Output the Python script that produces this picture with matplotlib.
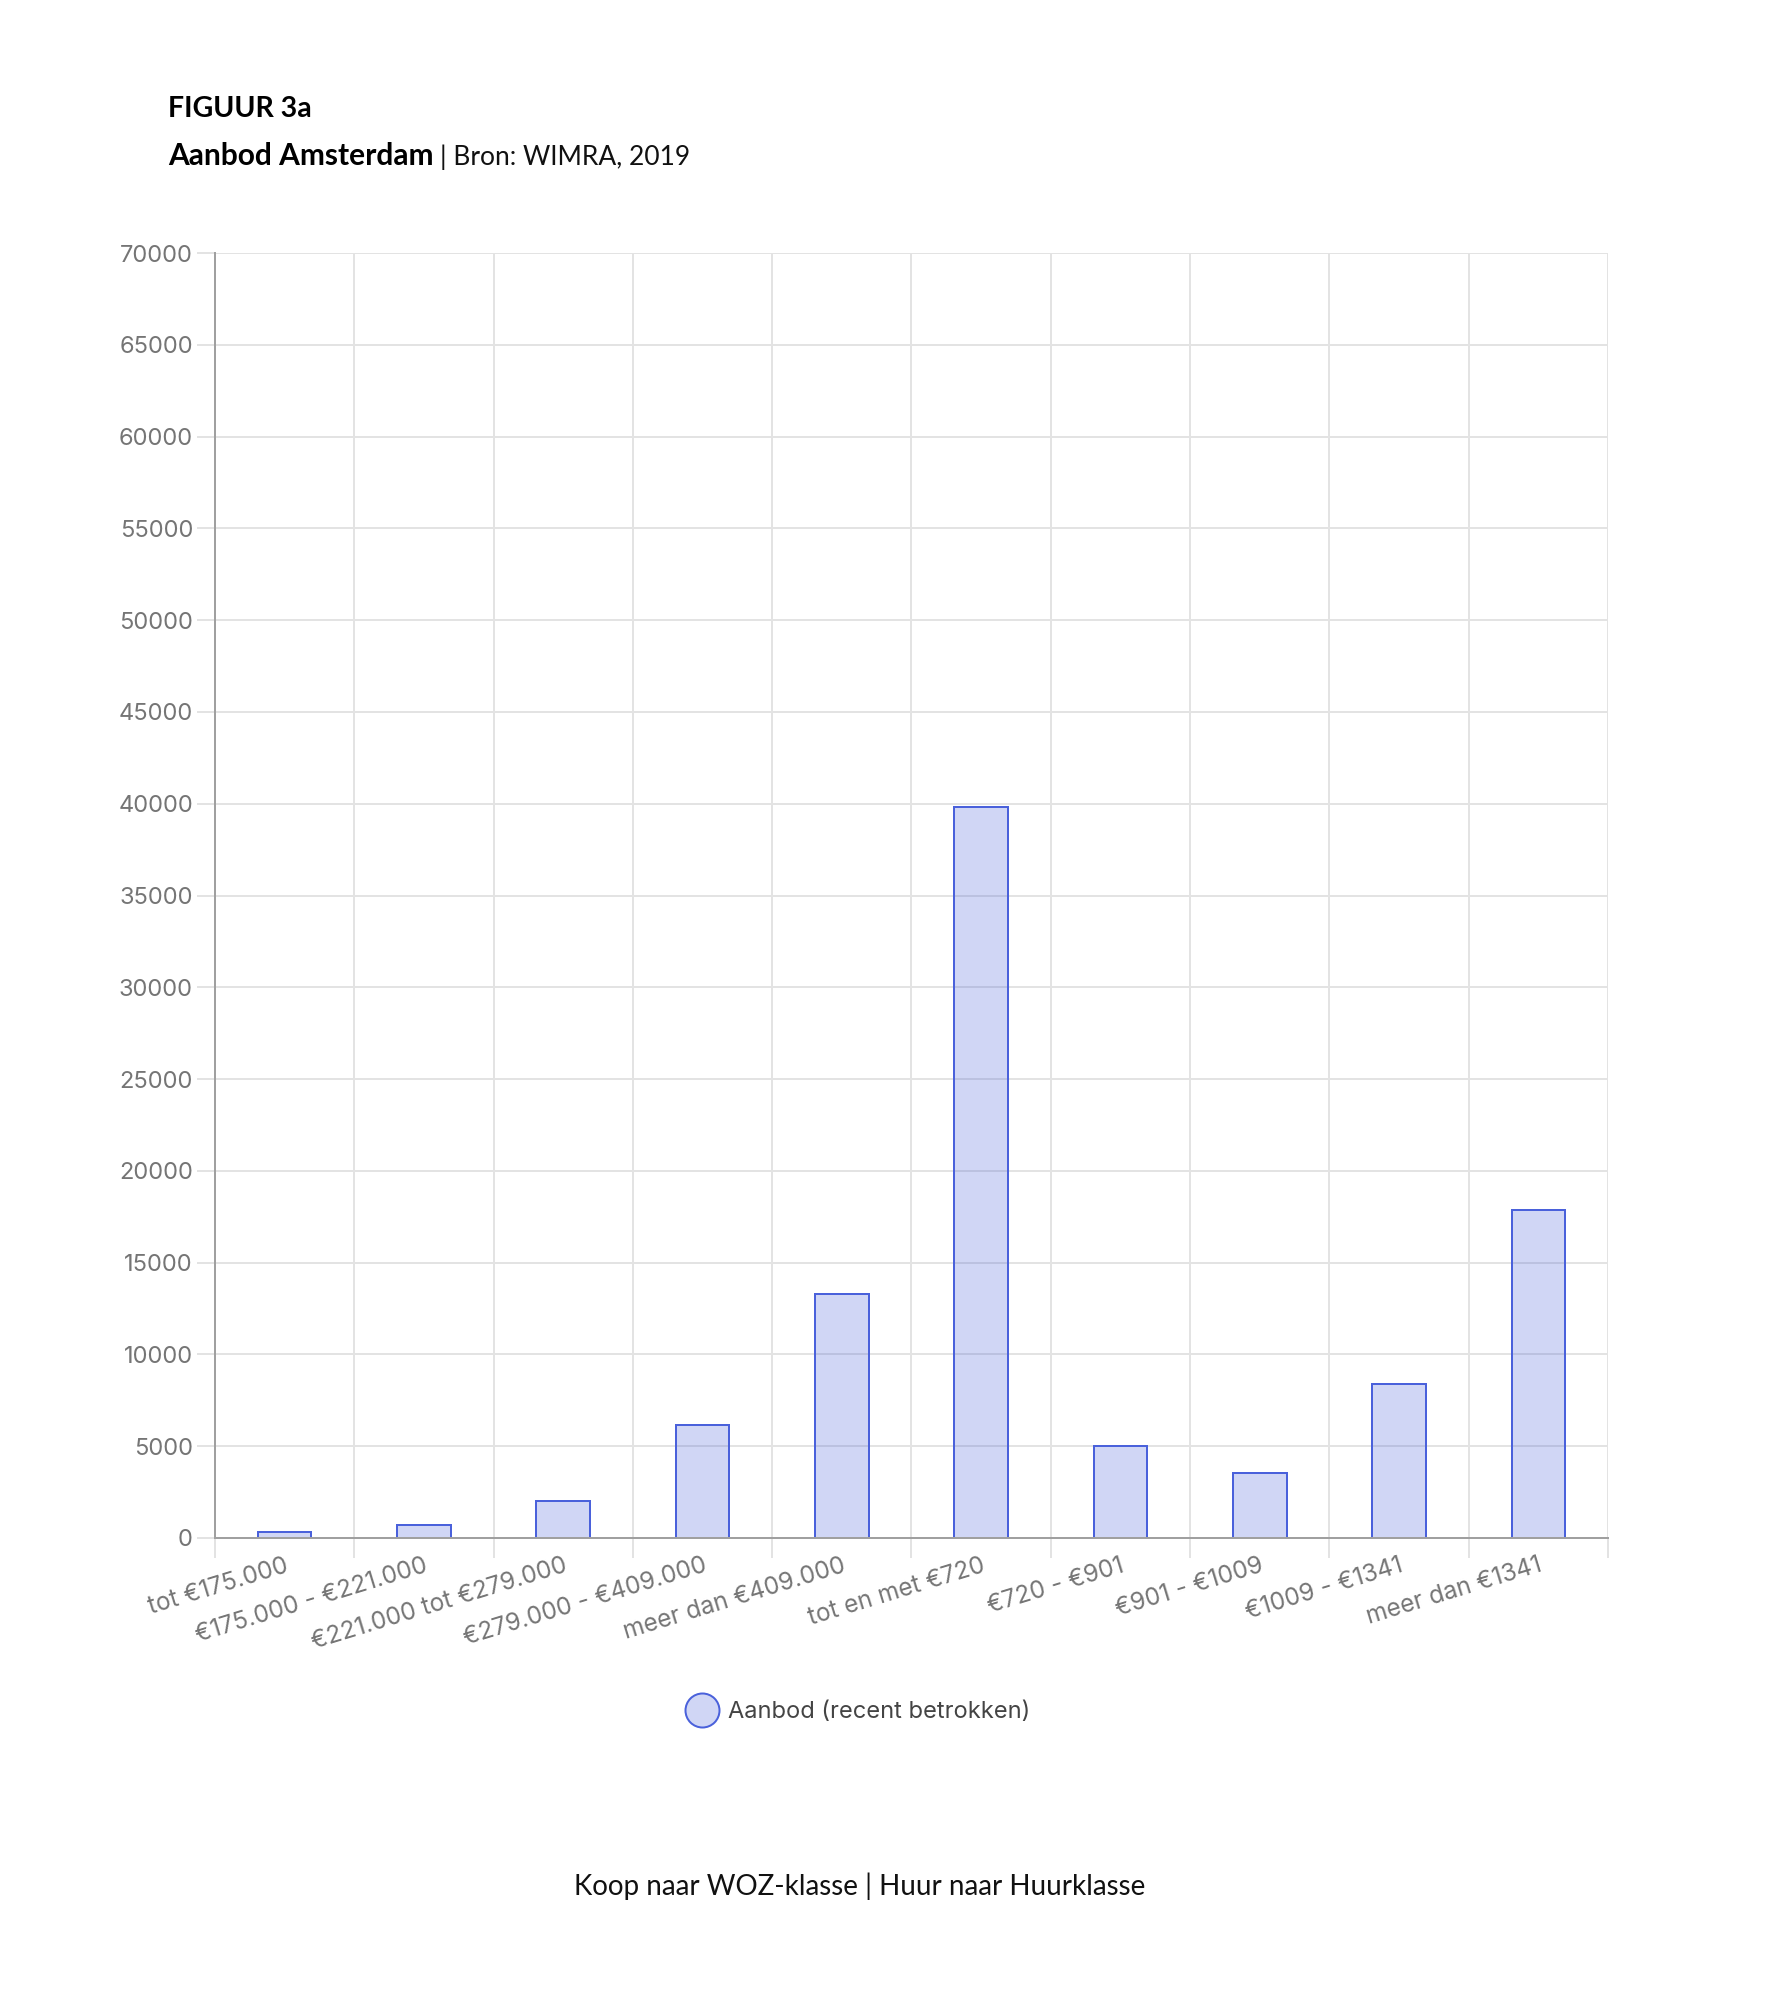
import matplotlib
matplotlib.use("Agg")
import matplotlib.pyplot as plt
from matplotlib.lines import Line2D

# data
categories = [
    "tot €175.000", "€175.000 - €221.000", "€221.000 tot €279.000",
    "€279.000 - €409.000", "meer dan €409.000", "tot en met €720",
    "€720 - €901", "€901 - €1009", "€1009 - €1341", "meer dan €1341",
]
aanbod = [350, 700, 2000, 6150, 13280, 39800, 5030, 3540, 8410, 17870]
y_ticks = list(range(0, 70001, 5000))

W, H = 1790, 1989
DPI = 100
PX = 72 / DPI  # points per pixel

edge = (0.29, 0.38, 0.86)
fill = (0.29, 0.38, 0.86, 0.26)
grid_c = "#E3E3E3"
axis_c = "#A0A0A0"
tick_c = "#757575"
sans = ["Inter", "DejaVu Sans"]
title_font = ["Lato", "DejaVu Sans"]

fig = plt.figure(figsize=(W / DPI, H / DPI), dpi=DPI, facecolor="white")
ax = fig.add_axes([215 / W, 1 - 1538 / H, 1393 / W, 1285 / H])

x = list(range(len(categories)))
ax.bar(x, aanbod, width=0.385, color=fill, edgecolor=edge, linewidth=2 * PX, zorder=3)

ax.set_xlim(-0.5, len(categories) - 0.5)
ax.set_ylim(0, 70000)
ax.set_yticks(y_ticks)
ax.set_yticklabels([str(v) for v in y_ticks], family=sans, fontsize=17, color=tick_c)

ax.set_xticks(x)
ax.set_xticks([i - 0.5 for i in range(len(categories) + 1)], minor=True)
ax.set_xticklabels(categories, family=sans, fontsize=17.5, color=tick_c,
                   rotation=17, ha="right", va="top", rotation_mode="anchor")
ax.tick_params(axis="x", which="major", length=0, pad=16 * PX)
ax.tick_params(axis="x", which="minor", length=20 * PX, width=2 * PX, color=grid_c)
ax.tick_params(axis="y", length=18 * PX, width=2 * PX, color=grid_c, pad=4 * PX)

ax.grid(axis="y", color=grid_c, linewidth=2 * PX)
ax.grid(axis="x", which="minor", color=grid_c, linewidth=2 * PX)
ax.set_axisbelow(True)

for s in ["top", "right"]:
    ax.spines[s].set_visible(False)
for s in ["left", "bottom"]:
    ax.spines[s].set_color(axis_c)
    ax.spines[s].set_linewidth(2 * PX)
    ax.spines[s].set_zorder(4)

# titles
fig.text(168 / W, 1 - 117 / H, "FIGUUR 3a", family=title_font,
         weight="bold", fontsize=20.5, va="baseline", ha="left")
t1 = fig.text(168 / W, 1 - 165 / H, "Aanbod Amsterdam", family=title_font,
              weight="bold", fontsize=21.5, va="baseline", ha="left")
fig.canvas.draw()
bb = t1.get_window_extent()
fig.text((bb.x1 + 7) / W, 1 - 165 / H, "| Bron: WIMRA, 2019", family=title_font,
         weight="normal", fontsize=19, color="#111111", va="baseline", ha="left")

# legend
handle = Line2D([], [], linestyle="none", marker="o", markersize=34 * PX,
                markerfacecolor=fill, markeredgecolor=edge, markeredgewidth=2 * PX)
fig.legend(handles=[handle], labels=["Aanbod (recent betrokken)"], loc="center",
           bbox_to_anchor=(860 / W, 1 - 1712 / H), frameon=False, handlelength=1.0,
           handletextpad=0.6, prop={"family": sans, "size": 17}, labelcolor="#444444")

# footer
fig.text(860 / W, 1 - 1895 / H, "Koop naar WOZ-klasse | Huur naar Huurklasse",
         family=title_font, weight="normal", fontsize=20, color="#111111",
         va="baseline", ha="center")

fig.savefig("out.png", dpi=DPI, facecolor="white")
